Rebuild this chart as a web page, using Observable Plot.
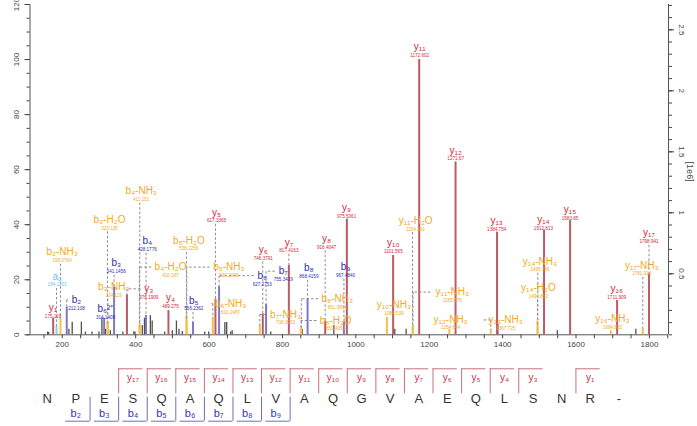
<!DOCTYPE html>
<html><head><meta charset="utf-8">
<script src="https://cdn.jsdelivr.net/npm/d3@7"></script>
<script src="https://cdn.jsdelivr.net/npm/@observablehq/plot@0.6"></script>
<style>body{margin:0;background:#fff;} svg{display:block;} #chart{width:697px;}</style>
</head><body><div id="chart"></div>
<script>
// ---------- data ----------
const ionName = ["y₁","a₂","b₂-NH₃","b₂","b₆²⁺","b₃-H₂O","b₃-NH₃","b₃","b₄-NH₃","b₄","y₃","b₄-H₂O","y₄","b₅-H₂O","b₅","y₅","b₅-NH₃","b₆-NH₃","b₆","y₆","b₇","b₇-NH₃","y₇","b₈","y₈","b₈-NH₃","b₈-H₂O","y₉","b₉","y₁₀","y₁₀-NH₃","y₁₁-H₂O","y₁₁","y₁₁-NH₃","y₁₂-NH₃","y₁₂","y₁₃","y₁₃-NH₃","y₁₄-NH₃","y₁₄-H₂O","y₁₄","y₁₅","y₁₆-NH₃","y₁₆","y₁₇-NH₃","y₁₇"];
const ionMzText = ["175.119","184.1201","195.0764","212.108","314.1409","323.135","324.119","341.1456","411.151","428.1776","376.1909","410.167","489.275","538.2256","556.2362","617.3365","539.2096","610.2487","627.2753","746.3791","755.3419","738.3053","817.4163","868.4159","916.4047","851.3894","850.4053","975.5061","967.4840","1101.565","1084.539","1154.591","1172.602","1155.575","1254.644","1271.67","1384.754","1367.725","1495.786","1494.802","1512.813","1583.85","1694.882","1711.909","1781.914","1798.941"];
const ionInt = [6,3,6,10,6,5,4,17.3,4,7,14.5,3,8.8,7,4.6,13,5,6.4,17.5,7.6,11,3.4,25.2,13,5,2.5,2,42,4.6,28.8,6.4,3,100,3,2,62.8,37.3,2,3,5,38,41.5,1.5,12.5,2,22];
// label anchors (m/z, relative intensity %)
const labelMz = [174.6,186.0,199.6,238.6,317.7,328.6,340.3,346.9,415.0,431.4,435.7,495,494.9,544.8,558.5,620.4,653.9,658.5,744.9,747.7,802.2,808.4,817.5,872,920.2,949.4,944.8,974.8,972,1102.1,1103.7,1162.9,1173.8,1262.9,1258.3,1271.9,1383.7,1408.3,1501.8,1497.4,1511.1,1583.6,1699.2,1710.9,1779,1798.9];
const labelInt = [9.9,21.2,30.0,12.7,9.4,41.8,17.3,26.0,52.2,34.0,16.7,24.6,13.3,34.3,12.5,44.5,24.6,11.3,21.5,30.9,23.1,7.4,33.6,24.2,34.9,13.1,5.2,46.1,24.6,33.3,10.9,41.5,104.5,15.5,5.6,67,41.3,5.4,26.7,17.1,41.8,45.4,5.8,16.7,25.2,36.9];
// unassigned peaks
const otherMz =  [160,163,218,227,252,263,281,300,308,318,331,365,395,398,418,424,440,445,479,500,511,518,527,588,599,643,648,659,663,768,854,940,1106,1137,1387,1549,1763];
const otherInt = [1,0.8,2,4.6,4.6,1,1,1,6,2,1.5,1,1,1,3.4,6,7,5,1,1.5,5,2,1.2,1,1,4.5,4.5,1,1.5,1,2,3.4,2,2,3.7,1.5,2];
// axes
const xTicks = d3.range(150, 1851, 50);
const leftTicks = [0,20,40,60,80,100,120];
const rightTicks = [0.5,1,1.5,2,2.5];
const rightPerUnit = 44.32; // % relative intensity per 1e6 counts
// sequence coverage
const sequence = "NPESQAQLVAQGVAEQLSNR-".split("");
const bSeries = [2,3,4,5,6,7,8,9];
const ySeries = [17,16,15,14,13,12,11,10,9,8,7,6,5,4,3,1];

// ---------- build ----------
const sub = n => String(n).split("").map(c => "₀₁₂₃₄₅₆₇₈₉"[+c]).join("");
const kindOf = n => n.includes("-") ? "loss" : n[0];
const ions = ionName.map((n, i) => ({name: n, kind: kindOf(n), mz: +ionMzText[i], txt: ionMzText[i], int: ionInt[i], lx: labelMz[i], ly: labelInt[i]}));
const others = otherMz.map((m, i) => ({mz: m, int: otherInt[i], kind: "o"}));
const lineColor = {y: "#bd5a65", b: "#7a7ac6", loss: "#f2c14e", a: "#8fd0e8", o: "#505050"};
const textColor = {y: "#d3283d", b: "#2e2eb2", loss: "#f2aa22", a: "#6cc3e3"};

const X0 = 112, X1 = 1852, ML = 29.5, MR = 29;
const pxPerMz = (697 - ML - MR) / (X1 - X0);
const pxPerPct = (350 - 4 - 15.7) / 120;

const conn = [];
ions.forEach(d => {
  const numBottom = d.ly - 11.5 / pxPerPct;
  if (Math.abs(d.lx - d.mz) < 20) {
    if (numBottom > d.int + 0.5) conn.push({x1: d.mz, y1: numBottom, x2: d.mz, y2: d.int});
  } else {
    const half = (d.name.length * 2.7 + 3) / pxPerMz;
    const xs = d.mz < d.lx ? d.lx - half : d.lx + half;
    conn.push({x1: xs, y1: d.ly, x2: d.mz, y2: d.ly});
    if (d.ly > d.int + 0.5) conn.push({x1: d.mz, y1: d.ly, x2: d.mz, y2: d.int});
  }
});

const fontFamily = "'Liberation Sans', Arial, sans-serif";

const spectrum = Plot.plot({
  width: 697, height: 350,
  marginLeft: ML, marginRight: MR, marginTop: 4, marginBottom: 15.7,
  x: {domain: [X0, X1]},
  y: {domain: [0, 120]},
  color: {type: "identity"},
  style: {fontFamily, fontSize: "8px", color: "#444", background: "white"},
  marks: [
    Plot.axisX(xTicks, {tickSize: 4, tickPadding: 3, tickFormat: d => d % 200 === 0 ? String(d) : "", label: null}),
    Plot.axisY(d3.range(0, 121, 5), {tickSize: 3, tickFormat: () => "", label: null}),
    Plot.axisY(d3.range(0, 121, 20), {tickSize: 5, tickFormat: () => "", label: null}),
    Plot.text(leftTicks, {x: () => X0, y: d => d, dx: -14, rotate: -90, text: d => String(d), fontSize: 8, fill: "#444"}),
    Plot.axisY(d3.range(0, 27.01, 1).map(v => v / 10 * rightPerUnit), {anchor: "right", tickSize: 3, tickFormat: () => "", label: null}),
    Plot.axisY(rightTicks.map(v => v * rightPerUnit), {anchor: "right", tickSize: 5, tickFormat: () => "", label: null}),
    Plot.text(rightTicks, {x: () => X1, y: v => v * rightPerUnit, dx: 13, rotate: 90, text: v => String(v), fontSize: 8, fill: "#444"}),
    Plot.text(["[1e6]"], {frameAnchor: "right", dx: 21, dy: 12, rotate: 90, fontSize: 9, fill: "#444"}),
    Plot.ruleX([X0, X1], {y1: 0, y2: 120, stroke: "#555"}),
    Plot.ruleY([0], {x1: X0, x2: X1, stroke: "#555"}),
    Plot.ruleX(others, {x: "mz", y1: 0, y2: "int", stroke: d => lineColor[d.kind], strokeWidth: 1.3}),
    Plot.ruleX(ions, {x: "mz", y1: 0, y2: "int", stroke: d => lineColor[d.kind], strokeWidth: 2}),
    Plot.link(conn, {x1: "x1", y1: "y1", x2: "x2", y2: "y2", stroke: "#8c8c8c", strokeDasharray: "2.5,2", strokeWidth: 1}),
    Plot.text(ions, {x: "lx", y: "ly", text: "name", fill: d => textColor[d.kind], fontSize: 10}),
    Plot.text(ions, {x: "lx", y: "ly", dy: 8.5, text: "txt", fill: d => textColor[d.kind], fontSize: 4.6})
  ]
});

// sequence coverage diagram
const Y_TOP = 18.3, Y_YEND = 43.3, Y_YLAB = 27.3, Y_LET = 48.3, Y_BSTART = 46.7, Y_BOT = 70.7, Y_BLAB = 63.3, W = 0.85;
const coverage = Plot.plot({
  width: 697, height: 76,
  marginLeft: 46.7, marginRight: 78.7, marginTop: 0, marginBottom: 0,
  x: {domain: [0, 20], axis: null},
  y: {domain: [76, 0], axis: null},
  style: {fontFamily, background: "white"},
  marks: [
    Plot.ruleX(ySeries, {x: k => 20 - k - 0.5, y1: () => Y_TOP, y2: () => Y_YEND, stroke: "#c8707a"}),
    Plot.ruleY(ySeries, {y: () => Y_TOP, x1: k => 20 - k - 0.5, x2: k => 20 - k - 0.5 + W, stroke: "#c8707a"}),
    Plot.text(ySeries, {x: k => 20 - k, y: () => Y_YLAB, text: k => "y" + sub(k), fill: "#c83048", fontSize: 10}),
    Plot.ruleX(bSeries, {x: k => k - 0.5, y1: () => Y_BSTART, y2: () => Y_BOT, stroke: "#6e6eb8"}),
    Plot.ruleY(bSeries, {y: () => Y_BOT, x1: k => k - 0.5 - W, x2: k => k - 0.5, stroke: "#6e6eb8"}),
    Plot.text(bSeries, {x: k => k - 1, y: () => Y_BLAB, text: k => "b" + sub(k), fill: "#3434b0", fontSize: 11}),
    Plot.text(sequence, {x: (d, i) => i, y: () => Y_LET, text: d => d, fill: "#333", fontSize: 13})
  ]
});

const el = document.getElementById("chart");
el.append(spectrum, coverage);
</script>
</body></html>
